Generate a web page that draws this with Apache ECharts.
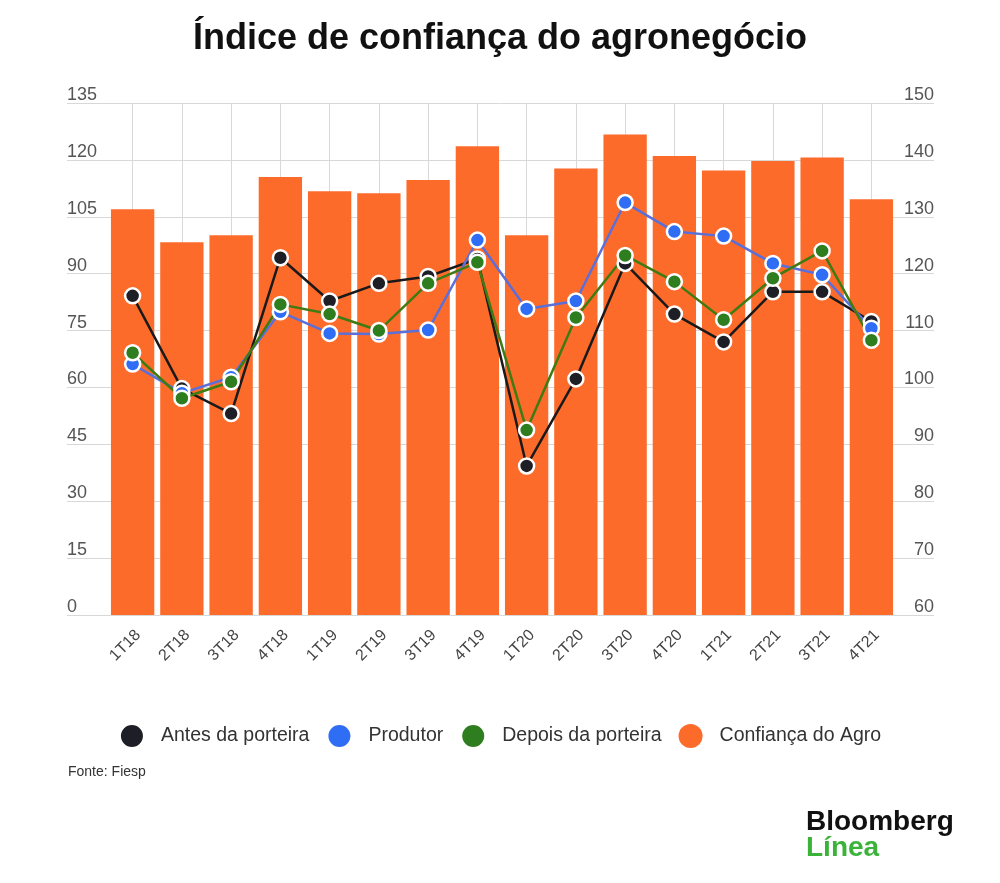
<!DOCTYPE html>
<html><head><meta charset="utf-8">
<script src="https://cdn.jsdelivr.net/npm/echarts@6/dist/echarts.min.js"></script>
<style>html,body{margin:0;padding:0;background:#fff;}#c{width:1000px;height:883px;}</style>
</head><body><div id="c"></div>
<script>
const categories = ['1T18','2T18','3T18','4T18','1T19','2T19','3T19','4T19','1T20','2T20','3T20','4T20','1T21','2T21','3T21','4T21'];
const confiancaAgro = [107.0, 98.3, 100.1, 115.5, 111.7, 111.2, 114.7, 123.6, 100.1, 117.7, 126.7, 121.0, 117.2, 119.7, 120.6, 109.6];
const antesPorteira = [116.1, 99.8, 95.4, 122.8, 115.2, 118.3, 119.5, 122.6, 86.2, 101.5, 121.8, 112.9, 108.0, 116.8, 116.8, 111.6];
const produtor = [104.1, 99.0, 101.8, 113.3, 109.5, 109.4, 110.1, 125.9, 113.8, 115.2, 132.5, 127.4, 126.6, 121.8, 119.8, 110.4];
const depoisPorteira = [106.1, 98.1, 101.0, 114.6, 112.9, 110.0, 118.3, 122.0, 92.5, 112.3, 123.2, 118.6, 111.9, 119.2, 124.0, 108.3];
const leftTicks = {min: 0, max: 135, interval: 15};
const rightTicks = {min: 60, max: 150, interval: 10};

const chart = echarts.init(document.getElementById('c'));
const font = 'Liberation Sans, Arial, sans-serif';
function lineSeries(name, data, fill, line) {
  return {
    name, type: 'line', xAxisIndex: 1, yAxisIndex: 3, data,
    symbol: 'circle', symbolSize: 15, z: 5,
    itemStyle: {color: fill, borderColor: '#fff', borderWidth: 2.5},
    lineStyle: {color: line, width: 2.5},
    emphasis: {disabled: true}
  };
}
chart.setOption({
  animation: false,
  backgroundColor: '#fff',
  title: {
    text: 'Índice de confiança do agronegócio', left: 'center', top: 16,
    textStyle: {fontFamily: font, fontSize: 36, fontWeight: 'bold', color: '#111'}
  },
  legend: {
    top: 718, left: 'center', icon: 'circle', itemWidth: 24, itemHeight: 24, itemGap: 17,
    data: ['Antes da porteira', 'Produtor', 'Depois da porteira', 'Confiança do Agro'],
    textStyle: {fontFamily: font, fontSize: 19.5, color: '#333', padding: [0, 0, 0, 12]}
  },
  graphic: [
    {type: 'text', left: 68, top: 765, style: {text: 'Fonte: Fiesp', font: '14px Liberation Sans, Arial', fill: '#333'}},
    {type: 'text', left: 806, top: 808, style: {text: 'Bloomberg', font: 'bold 28px Liberation Sans, Arial', fill: '#111'}},
    {type: 'text', left: 806, top: 834, style: {text: 'Línea', font: 'bold 28px Liberation Sans, Arial', fill: '#3bb33a'}}
  ],
  grid: [
    {left: 67, right: 66, top: 103, bottom: 268},
    {left: 108, right: 104, top: 103, bottom: 268}
  ],
  xAxis: [
    {type: 'category', gridIndex: 0, data: categories, show: false},
    {type: 'category', gridIndex: 1, data: categories,
     axisLine: {show: false}, axisTick: {show: false},
     axisLabel: {rotate: 45, fontFamily: font, fontSize: 16, color: '#444', margin: 12, interval: 0, verticalAlign: 'top'},
     splitLine: {show: true, alignWithLabel: true, lineStyle: {color: '#d8d8d8', width: 1}}}
  ],
  yAxis: [
    {type: 'value', gridIndex: 0, position: 'left', min: leftTicks.min, max: leftTicks.max, interval: leftTicks.interval,
     axisLine: {show: false}, axisTick: {show: false},
     axisLabel: {inside: true, align: 'left', verticalAlign: 'bottom', margin: 0, lineHeight: 16, padding: 0, fontFamily: font, fontSize: 18, color: '#555'},
     splitLine: {lineStyle: {color: '#d8d8d8', width: 1}}},
    {type: 'value', gridIndex: 0, position: 'right', min: rightTicks.min, max: rightTicks.max, interval: rightTicks.interval,
     axisLine: {show: false}, axisTick: {show: false},
     axisLabel: {inside: true, align: 'right', verticalAlign: 'bottom', margin: 0, lineHeight: 16, padding: 0, fontFamily: font, fontSize: 18, color: '#555'},
     splitLine: {show: false}},
    {type: 'value', gridIndex: 1, min: leftTicks.min, max: leftTicks.max, interval: leftTicks.interval, show: false, splitLine: {show: false}},
    {type: 'value', gridIndex: 1, min: rightTicks.min, max: rightTicks.max, interval: rightTicks.interval, show: false, splitLine: {show: false}}
  ],
  series: [
    lineSeries('Antes da porteira', antesPorteira, '#1e1f26', '#1a1a1a'),
    lineSeries('Produtor', produtor, '#2f6df5', '#5a6fd8'),
    lineSeries('Depois da porteira', depoisPorteira, '#2e7d1f', '#3f7a12'),
    {name: 'Confiança do Agro', type: 'bar', xAxisIndex: 1, yAxisIndex: 2, data: confiancaAgro,
     barCategoryGap: '12%', z: 2, itemStyle: {color: '#fd6b2b'}, emphasis: {disabled: true}}
  ]
});
</script></body></html>
